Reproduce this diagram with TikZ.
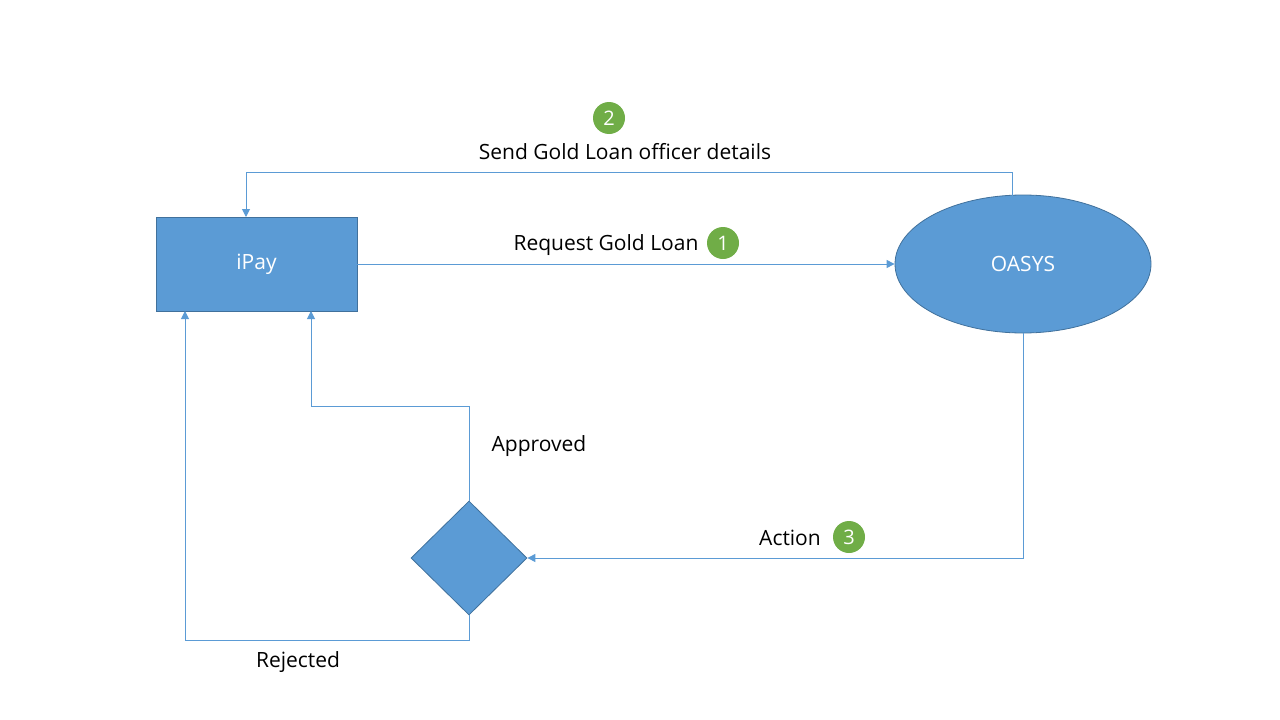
\documentclass[tikz,border=0pt]{standalone}
\usepackage{fontspec}
\setmainfont{Open Sans}
\usetikzlibrary{arrows.meta,shapes.geometric}
\definecolor{boxblue}{HTML}{5B9BD5}
\definecolor{edgeblue}{HTML}{41719C}
\definecolor{badge}{HTML}{70AD47}
\tikzset{
  shapebox/.style={fill=boxblue, draw=edgeblue, line width=0.8pt, text=white, font=\fontsize{21}{25}\selectfont},
  conn/.style={draw=boxblue, line width=1pt, -{Triangle[width=8pt,length=8pt]}},
  lbl/.style={font=\fontsize{21}{25}\selectfont, inner sep=0pt},
  numbadge/.style={circle, fill=badge, text=white, minimum size=32pt, inner sep=0pt, font=\fontsize{20}{24}\selectfont},
}
\begin{document}
\begin{tikzpicture}[x=1pt,y=-1pt]
\useasboundingbox (0,0) rectangle (1280,720);
\node[shapebox, rectangle, minimum width=201pt, minimum height=94pt] (ipay) at (256.5,264) {iPay};
\node[shapebox, ellipse, minimum width=256pt, minimum height=138pt, inner sep=0pt] (oasys) at (1023,264) {OASYS};
\node[shapebox, diamond, minimum width=116pt, minimum height=114pt, inner sep=0pt, aspect=1] (dec) at (469,558) {};
% arrow 1
\draw[conn] (ipay.east) -- (oasys.west);
\node[lbl] (l1) at (606,245) {Request Gold Loan};
\node[numbadge] (b1) at (723,243) {1};
% arrow 2
\coordinate (s2) at (1012,197);
\coordinate (e2) at (246,217);
\draw[conn] (s2) -- (1012,172) -- (246,172) -- (e2);
\node[numbadge] (b2) at (609,118) {2};
\node[lbl] (l2) at (625,152) {Send Gold Loan officer details};
% arrow 3
\draw[conn] (oasys.south) -- (1023,558) -- (dec.east);
\node[lbl] (l3) at (790,538) {Action};
\node[numbadge] (b3) at (849,537) {3};
% approved
\coordinate (e4) at (311,311);
\draw[conn] (dec.north) -- (469,406) -- (311,406) -- (e4);
\node[lbl] (l4) at (539,446) {Approved};
% rejected
\coordinate (e5) at (185,311);
\draw[conn] (dec.south) -- (469,640) -- (185,640) -- (e5);
\node[lbl] (l5) at (298,662) {Rejected};
\end{tikzpicture}
\end{document}
